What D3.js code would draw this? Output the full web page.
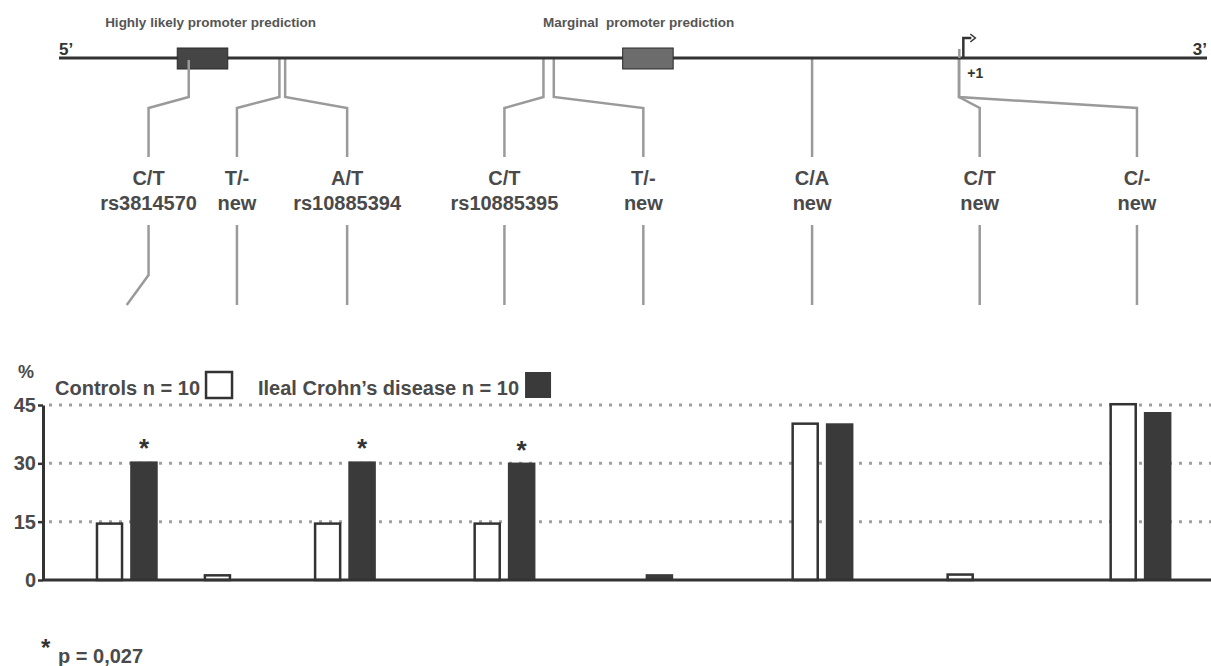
<!DOCTYPE html>
<html>
<head>
<meta charset="utf-8">
<script src="https://cdn.jsdelivr.net/npm/d3@7"></script>
<style>
  body { margin: 0; background: #fff; }
  svg { display: block; font-family: "Liberation Sans", Arial, sans-serif; }
</style>
</head>
<body>
<svg id="chart" width="1211" height="666"></svg>
<script>
const d3 = window.d3

// Data

const alleles = ['C/T', 'T/-', 'A/T', 'C/T', 'T/-', 'C/A', 'C/T', 'C/-']
const snpIds = ['rs3814570', 'new', 'rs10885394', 'rs10885395', 'new', 'new', 'new', 'new']
const series = ['Controls n = 10', 'Ileal Crohn\u2019s disease n = 10']
const controls = [14.5, 1.2, 14.5, 14.5, 0, 40.2, 1.4, 45.2]
const crohns = [30.5, 0, 30.5, 30.2, 1.5, 40.3, 0, 43.2]
const significant = [true, false, true, true, false, false, false, false]
const yTicks = [0, 15, 30, 45]

// relative position along the promoter region (0 = 5' end, 100 = 3' end)
const genePos = [11.3, 19.2, 19.7, 42.2, 43.1, 65.6, 78.4, 78.4]
const labelPos = [7.8, 15.5, 25.1, 38.8, 50.9, 65.6, 80.2, 93.9]
const barPos = [5.9, 15.3, 24.9, 38.8, 50.8, 66.5, 80.0, 94.2]
const tssPos = 78.6
const promoters = [
  { name: 'Highly likely promoter prediction', from: 10.3, to: 14.7, title: 13.2, fill: '#454545' },
  { name: 'Marginal\u00a0 promoter prediction', from: 49.1, to: 53.5, title: 50.5, fill: '#6c6c6c' }
]
const pValue = 'p = 0,027'

// Layout

const svg = d3.select('#chart')
const dark = '#333'
const grey = '#9a9a9a'
const textCol = '#4a4a4a'

const pos = d3.scaleLinear().domain([0, 100]).range([59, 1207])
const geneY = 58

// Gene track

const gene = svg.append('g')

const snps = alleles.map((a, i) => ({
  allele: a, id: snpIds[i], g: pos(genePos[i]), l: pos(labelPos[i]), b: pos(barPos[i])
}))

gene.selectAll('path.up').data(snps).enter().append('path')
  .attr('class', 'up')
  .attr('fill', 'none')
  .attr('stroke', grey)
  .attr('stroke-width', 2.5)
  .attr('d', d => `M${d.g},${geneY + 1}V97L${d.l},108V157`)

gene.selectAll('path.down').data(snps).enter().append('path')
  .attr('class', 'down')
  .attr('fill', 'none')
  .attr('stroke', grey)
  .attr('stroke-width', 2.5)
  .attr('d', d => {
    const end = Math.abs(d.b - d.l) > 15 ? d.b : d.l
    return `M${d.l},225V275L${end},305`
  })

gene.append('line')
  .attr('x1', pos(0)).attr('x2', pos(100))
  .attr('y1', geneY).attr('y2', geneY)
  .attr('stroke', dark).attr('stroke-width', 3)

gene.selectAll('rect').data(promoters).enter().append('rect')
  .attr('x', d => pos(d.from))
  .attr('width', d => pos(d.to) - pos(d.from))
  .attr('y', geneY - 10).attr('height', 21)
  .attr('fill', d => d.fill)
  .attr('stroke', '#2a2a2a').attr('stroke-width', 1)

gene.selectAll('text.prom').data(promoters).enter().append('text')
  .attr('class', 'prom')
  .attr('x', d => pos(d.title))
  .attr('y', 27)
  .attr('text-anchor', 'middle')
  .attr('font-size', 13.5).attr('font-weight', 'bold')
  .attr('fill', '#555')
  .text(d => d.name)

// redraw the connector piece that sits inside the first box
gene.append('line')
  .attr('x1', snps[0].g).attr('x2', snps[0].g)
  .attr('y1', geneY + 2).attr('y2', geneY + 12)
  .attr('stroke', grey).attr('stroke-width', 2.5)

// transcription start
const tx = pos(tssPos) + 2
gene.append('line')
  .attr('x1', tx - 4).attr('x2', tx - 4).attr('y1', geneY - 9).attr('y2', geneY)
  .attr('stroke', grey).attr('stroke-width', 2.5)
gene.append('path')
  .attr('fill', 'none').attr('stroke', dark).attr('stroke-width', 2.5)
  .attr('d', `M${tx},${geneY}V38H${tx + 8}`)
gene.append('path')
  .attr('fill', 'none').attr('stroke', dark).attr('stroke-width', 1.5)
  .attr('d', `M${tx + 7},34L${tx + 12},38L${tx + 7},42`)
gene.append('text')
  .attr('x', tx + 4).attr('y', 78)
  .attr('font-size', 14).attr('font-weight', 'bold').attr('fill', dark)
  .text('+1')

gene.append('text')
  .attr('x', pos(0)).attr('y', 55)
  .attr('font-size', 17).attr('font-weight', 'bold').attr('fill', dark)
  .text('5\u2019')
gene.append('text')
  .attr('x', pos(100)).attr('y', 55)
  .attr('text-anchor', 'end')
  .attr('font-size', 17).attr('font-weight', 'bold').attr('fill', dark)
  .text('3\u2019')

const labels = gene.selectAll('text.snp').data(snps).enter().append('text')
  .attr('class', 'snp')
  .attr('text-anchor', 'middle')
  .attr('font-size', 20).attr('font-weight', 'bold')
  .attr('fill', textCol)
labels.append('tspan').attr('x', d => d.l).attr('y', 185).text(d => d.allele)
labels.append('tspan').attr('x', d => d.l).attr('y', 210).text(d => d.id)

// Bar chart

const y = d3.scaleLinear().domain([0, 45]).range([580, 405])
const axisX = 43
const sub = d3.scaleBand().domain(series).range([-31, 31]).paddingInner(0.2)

const chart = svg.append('g')

chart.selectAll('line.grid').data(yTicks.filter(t => t > 0)).enter().append('line')
  .attr('class', 'grid')
  .attr('x1', axisX + 6).attr('x2', 1211)
  .attr('y1', d => y(d)).attr('y2', d => y(d))
  .attr('stroke', '#a0a0a0').attr('stroke-width', 3)
  .attr('stroke-dasharray', '3,7')

const bars = []
controls.forEach((v, i) => bars.push({ s: series[0], v, c: pos(barPos[i]) }))
crohns.forEach((v, i) => bars.push({ s: series[1], v, c: pos(barPos[i]) }))

chart.selectAll('rect.bar').data(bars.filter(d => d.v > 0)).enter().append('rect')
  .attr('class', 'bar')
  .attr('x', d => d.c + sub(d.s) + (d.s === series[0] ? 1.25 : 0))
  .attr('width', d => sub.bandwidth() - (d.s === series[0] ? 2.5 : 0))
  .attr('y', d => y(d.v))
  .attr('height', d => y(0) - y(d.v))
  .attr('fill', d => d.s === series[0] ? '#fff' : '#3a3a3a')
  .attr('stroke', d => d.s === series[0] ? dark : 'none')
  .attr('stroke-width', 2.5)

chart.selectAll('text.star').data(crohns.map((v, i) => ({ v, i })).filter(d => significant[d.i]))
  .enter().append('text')
  .attr('class', 'star')
  .attr('x', d => pos(barPos[d.i]) + sub(series[1]) + sub.bandwidth() / 2)
  .attr('y', d => y(d.v) - 4)
  .attr('text-anchor', 'middle')
  .attr('font-size', 26).attr('font-weight', 'bold').attr('fill', dark)
  .text('*')

chart.append('line')
  .attr('x1', axisX).attr('x2', 1211)
  .attr('y1', y(0)).attr('y2', y(0))
  .attr('stroke', dark).attr('stroke-width', 3)

const yAxis = chart.append('g')
  .attr('transform', `translate(${axisX},0)`)
  .call(d3.axisLeft(y).tickValues(yTicks).tickSize(5).tickSizeOuter(0).tickPadding(2))
yAxis.select('.domain').attr('stroke', dark).attr('stroke-width', 3)
yAxis.selectAll('.tick line').attr('stroke', dark).attr('stroke-width', 2.5)
yAxis.selectAll('.tick text')
  .attr('font-size', 20).attr('font-weight', 'bold')
  .attr('font-family', '"Liberation Sans", Arial, sans-serif')
  .attr('fill', textCol)

chart.append('text')
  .attr('x', 18).attr('y', 378)
  .attr('font-size', 18).attr('font-weight', 'bold').attr('fill', textCol)
  .text('%')

// Legend
const legendX = [55, 258]
const legend = chart.selectAll('g.legend').data(series).enter().append('g')
  .attr('class', 'legend')
legend.append('text')
  .attr('x', (d, i) => legendX[i]).attr('y', 395)
  .attr('font-size', 20).attr('font-weight', 'bold').attr('fill', textCol)
  .text(d => d)
  .each(function (d, i) {
    const w = this.getComputedTextLength()
    const g = d3.select(this.parentNode)
    g.append('rect')
      .attr('x', legendX[i] + w + 6).attr('y', 372)
      .attr('width', 26).attr('height', 26)
      .attr('fill', i === 0 ? '#fff' : '#3a3a3a')
      .attr('stroke', dark).attr('stroke-width', i === 0 ? 2.5 : 0)
  })

// Footnote
chart.append('text')
  .attr('x', 41).attr('y', 656)
  .attr('font-size', 24).attr('font-weight', 'bold').attr('fill', dark)
  .text('*')
chart.append('text')
  .attr('x', 58).attr('y', 663)
  .attr('font-size', 20).attr('font-weight', 'bold').attr('fill', textCol)
  .text(pValue)
</script>
</body>
</html>
